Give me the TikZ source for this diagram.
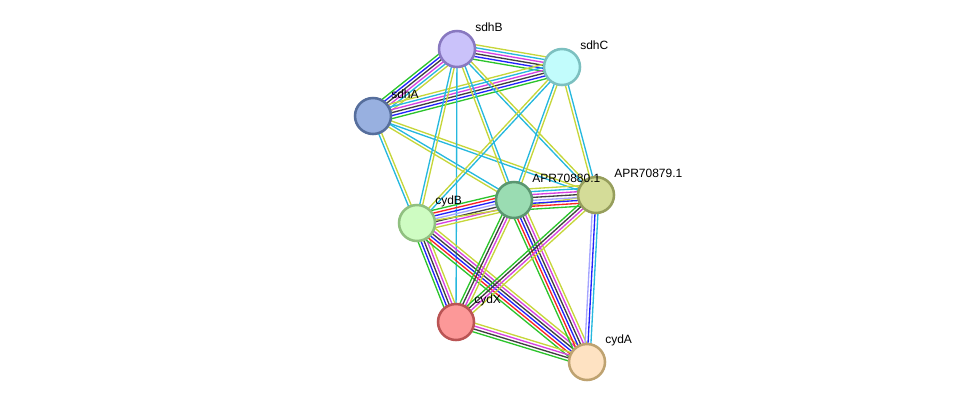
\documentclass[tikz,border=0pt]{standalone}
\usepackage{fontspec}
\setmainfont{Liberation Sans}
\usetikzlibrary{calc,backgrounds}

% evidence channel colours
\definecolor{nbhood}{RGB}{44,196,44}
\definecolor{fusion}{RGB}{250,36,36}
\definecolor{cooc}{RGB}{34,34,250}
\definecolor{homol}{RGB}{164,164,255}
\definecolor{coexp}{RGB}{64,64,64}
\definecolor{exper}{RGB}{214,64,224}
\definecolor{dbase}{RGB}{38,184,222}
\definecolor{tmine}{RGB}{198,214,58}

% parallel lines between two nodes, one per colour
\newcommand{\bundle}[4]{%
  \foreach \c [count=\i] in {#4} {%
    \pgfmathsetmacro{\off}{(\i-(#3+1)/2)*2.2}%
    \draw[edge,\c] ($(#1)!\off pt!90:(#2)$) -- ($(#2)!\off pt!-90:(#1)$);
  }}

\begin{document}
\begin{tikzpicture}[
  x=0.75pt,y=-0.75pt,
  prot/.style={circle, minimum size=27pt, inner sep=0pt, line width=1.9pt},
  lab/.style={anchor=west, font=\fontsize{9}{10}\selectfont, inner sep=0pt},
  edge/.style={line width=1pt}
]
\useasboundingbox (0,0) rectangle (976,408);
\node[prot, draw={rgb,255:red,136;green,120;blue,192}, fill={rgb,255:red,202;green,194;blue,250}] (sdhB) at (457,49) {};
\node[prot, draw={rgb,255:red,124;green,192;blue,192}, fill={rgb,255:red,194;green,252;blue,252}] (sdhC) at (562,67) {};
\node[prot, draw={rgb,255:red,86;green,110;blue,156}, fill={rgb,255:red,152;green,176;blue,224}] (sdhA) at (373,116) {};
\node[prot, draw={rgb,255:red,90;green,150;blue,112}, fill={rgb,255:red,154;green,220;blue,178}] (apr80) at (514,200) {};
\node[prot, draw={rgb,255:red,150;green,158;blue,92}, fill={rgb,255:red,212;green,220;blue,152}] (apr79) at (596,195) {};
\node[prot, draw={rgb,255:red,144;green,192;blue,128}, fill={rgb,255:red,206;green,252;blue,194}] (cydB) at (417,223) {};
\node[prot, draw={rgb,255:red,186;green,84;blue,84}, fill={rgb,255:red,252;green,152;blue,152}] (cydX) at (456,322) {};
\node[prot, draw={rgb,255:red,190;green,162;blue,112}, fill={rgb,255:red,254;green,226;blue,194}] (cydA) at (587,362) {};

\node[lab] (sdhBl) at ([shift={(18,-22)}]sdhB.center) {sdhB};
\node[lab] (sdhCl) at ([shift={(18,-22)}]sdhC.center) {sdhC};
\node[lab] (sdhAl) at ([shift={(18,-22)}]sdhA.center) {sdhA};
\node[lab] (apr80l) at ([shift={(18,-22)}]apr80.center) {APR70880.1};
\node[lab] (apr79l) at ([shift={(18,-22)}]apr79.center) {APR70879.1};
\node[lab] (cydBl) at ([shift={(18,-22)}]cydB.center) {cydB};
\node[lab] (cydXl) at ([shift={(18,-22)}]cydX.center) {cydX};
\node[lab] (cydAl) at ([shift={(18,-22)}]cydA.center) {cydA};

\begin{scope}[on background layer]
\bundle{sdhB}{sdhC}{6}{nbhood,cooc,coexp,exper,dbase,tmine}
\bundle{sdhB}{sdhA}{6}{nbhood,cooc,coexp,exper,dbase,tmine}
\bundle{sdhA}{sdhC}{6}{nbhood,cooc,coexp,exper,dbase,tmine}
\bundle{sdhA}{cydB}{2}{dbase,tmine}
\bundle{sdhA}{apr80}{2}{tmine,dbase}
\bundle{sdhA}{apr79}{2}{dbase,tmine}
\bundle{sdhB}{cydB}{2}{dbase,tmine}
\bundle{sdhB}{cydX}{1}{dbase}
\bundle{sdhB}{apr80}{2}{tmine,dbase}
\bundle{sdhB}{apr79}{2}{dbase,tmine}
\bundle{sdhC}{cydB}{2}{tmine,dbase}
\bundle{sdhC}{apr80}{2}{dbase,tmine}
\bundle{sdhC}{apr79}{2}{tmine,dbase}
\bundle{apr80}{cydB}{7}{nbhood,fusion,cooc,homol,coexp,exper,tmine}
\bundle{cydB}{apr79}{1}{tmine}
\bundle{apr80}{apr79}{8}{nbhood,fusion,cooc,homol,coexp,exper,dbase,tmine}
\bundle{cydB}{cydX}{5}{nbhood,cooc,coexp,exper,tmine}
\bundle{cydB}{cydA}{6}{nbhood,fusion,cooc,coexp,exper,tmine}
\bundle{apr80}{cydX}{4}{nbhood,coexp,exper,tmine}
\bundle{apr80}{cydA}{6}{nbhood,fusion,cooc,coexp,exper,tmine}
\bundle{apr79}{cydX}{4}{nbhood,coexp,exper,tmine}
\bundle{apr79}{cydA}{3}{homol,cooc,dbase}
\bundle{cydX}{cydA}{4}{nbhood,coexp,exper,tmine}
\end{scope}
\end{tikzpicture}
\end{document}
